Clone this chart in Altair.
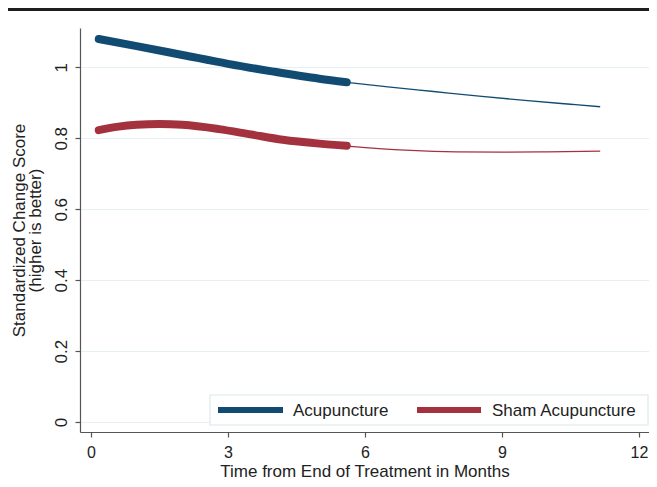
import altair as alt
import pandas as pd

# ---- data ----
groups = ["Acupuncture", "Sham Acupuncture"]
colors = ["#124b72", "#a3323e"]

acu_thick_x = [0.17, 1.0, 2.0, 3.0, 4.0, 5.0, 5.6]
acu_thick_y = [1.080, 1.060, 1.035, 1.010, 0.988, 0.968, 0.958]
acu_thin_x = [5.6, 6.5, 7.5, 8.5, 9.5, 10.5, 11.15]
acu_thin_y = [0.958, 0.945, 0.932, 0.919, 0.907, 0.896, 0.889]

sham_thick_x = [0.17, 0.6, 1.0, 1.5, 2.0, 2.8, 3.5, 4.2, 5.0, 5.6]
sham_thick_y = [0.823, 0.833, 0.838, 0.840, 0.838, 0.826, 0.811, 0.796, 0.785, 0.779]
sham_thin_x = [5.6, 6.3, 7.0, 8.0, 9.0, 10.0, 11.15]
sham_thin_y = [0.778, 0.771, 0.766, 0.762, 0.761, 0.762, 0.764]

x_ticks = [0, 3, 6, 9, 12]
y_ticks = [0, 0.2, 0.4, 0.6, 0.8, 1]

FONT = "Liberation Sans"


def frame(xs, ys, group):
    return pd.DataFrame({"month": xs, "score": ys, "group": group})


thick = pd.concat([frame(acu_thick_x, acu_thick_y, groups[0]),
                   frame(sham_thick_x, sham_thick_y, groups[1])])
thin = pd.concat([frame(acu_thin_x, acu_thin_y, groups[0]),
                  frame(sham_thin_x, sham_thin_y, groups[1])])

xscale = alt.Scale(domain=[-0.241, 12.219], nice=False, zero=False)
yscale = alt.Scale(domain=[-0.028, 1.111], nice=False, zero=False)
cscale = alt.Scale(domain=groups, range=colors)

xaxis = alt.Axis(values=x_ticks, title="Time from End of Treatment in Months",
                 grid=False, tickSize=5, labelPadding=7, labelAngle=0, labelFontSize=16,
                 titleBaseline="alphabetic", titleY=44)
yaxis = alt.Axis(values=y_ticks, format="~g",
                 title=["Standardized Change Score", "(higher is better)"],
                 grid=True, tickSize=5, labelPadding=5, labelAngle=-90,
                 labelAlign="center", labelBaseline="bottom",
                 titleAngle=-90, titleBaseline="middle", titleX=-61, titleY=202,
                 titleLineHeight=16)

thin_layer = alt.Chart(thin).mark_line(strokeWidth=1.3, interpolate="monotone").encode(
    x=alt.X("month:Q", scale=xscale, axis=xaxis),
    y=alt.Y("score:Q", scale=yscale, axis=yaxis),
    color=alt.Color("group:N", scale=cscale, legend=None),
    detail="group:N",
)

thick_layer = alt.Chart(thick).mark_line(strokeWidth=8, strokeCap="round",
                                          interpolate="monotone").encode(
    x=alt.X("month:Q", scale=xscale),
    y=alt.Y("score:Q", scale=yscale),
    color=alt.Color("group:N", scale=cscale, legend=None),
)

top_bar = alt.Chart(pd.DataFrame({"a": [0]})).mark_rule(color="#1e1e1e", strokeWidth=3).encode(
    x=alt.value(-74), x2=alt.value(577), y=alt.value(-18.5)
)

# ---- legend drawn as a box with stroke swatches and labels ----
legend_df = pd.DataFrame({"group": groups})
legend_box = alt.Chart(pd.DataFrame({"a": [0]})).mark_rect(
    fill="white", stroke="#dbe8eb", strokeWidth=1.2
).encode(x=alt.value(130), x2=alt.value(568), y=alt.value(367), y2=alt.value(397))

swatch_start = [138, 337]
swatch_end = [203, 401]
label_start = [213, 412]
legend_layers = [legend_box]
for i, g in enumerate(groups):
    base = alt.Chart(legend_df).transform_filter(alt.datum.group == g)
    legend_layers.append(base.mark_rule(strokeWidth=6).encode(
        x=alt.value(swatch_start[i]), x2=alt.value(swatch_end[i]), y=alt.value(382),
        color=alt.Color("group:N", scale=cscale, legend=None)))
    legend_layers.append(base.mark_text(
        align="left", baseline="middle", font=FONT, fontSize=17, color="#222"
    ).encode(x=alt.value(label_start[i]), y=alt.value(383), text="group:N"))

chart = alt.layer(thin_layer, thick_layer, top_bar, *legend_layers).properties(
    width=569, height=404,
    padding={"left": 72, "top": 20, "right": 0, "bottom": 47},
    autosize=alt.AutoSizeParams(type="none"),
    background="white",
).configure_view(stroke="transparent").configure_axis(
    labelFont=FONT, titleFont=FONT, labelFontSize=17, titleFontSize=17,
    labelColor="#222", titleColor="#222", titleFontWeight="normal",
    domainColor="#555", tickColor="#555", domainWidth=1.2, tickWidth=1.2,
    gridColor="#e6eff1", gridWidth=1,
)

chart.save("out.html", embed_options={"renderer": "svg", "actions": False})
